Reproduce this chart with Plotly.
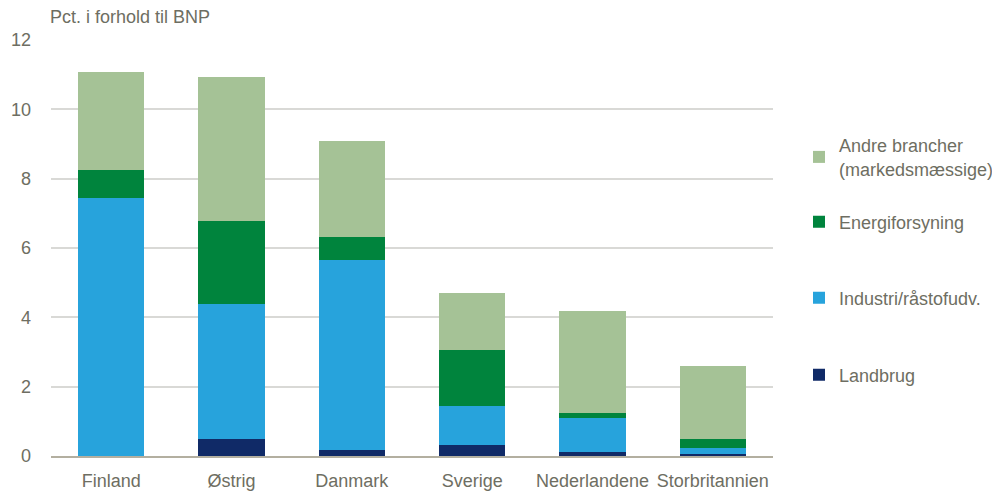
import plotly.graph_objects as go

categories = ["Finland", "Østrig", "Danmark", "Sverige", "Nederlandene", "Storbritannien"]
landbrug = [0.0, 0.50, 0.18, 0.31, 0.11, 0.07]
industri = [7.45, 3.88, 5.48, 1.13, 0.98, 0.15]
energi = [0.81, 2.41, 0.66, 1.63, 0.16, 0.27]
andre = [2.82, 4.15, 2.78, 1.63, 2.92, 2.12]

series_names = ["Landbrug", "Industri/råstofudv.", "Energiforsyning",
                "Andre brancher<br>(markedsmæssige)"]
series_values = [landbrug, industri, energi, andre]
colors = ["#102A67", "#27A3DC", "#00843D", "#A5C296"]
legend_ids = ["legend4", "legend3", "legend2", "legend"]

# page body has an 8px default margin; work in figure pixels = screen - 8
OFF = 8
legend_y_screen = [375, 298, 222, 157]

FONT = "Liberation Sans Narrow, Arial Narrow, Liberation Sans, Arial, sans-serif"
TEXT = "#6E6E62"

fig = go.Figure()
for name, vals, col, lid in zip(series_names, series_values, colors, legend_ids):
    fig.add_trace(go.Bar(x=categories, y=vals, name=name, marker_color=col,
                         marker_line_width=0, legend=lid))

W, H = 1000 - OFF, 492 - OFF
ml = 51 - OFF
mt = 40 - OFF
mr = W - (773 - OFF)
mb = H - (456 - OFF)
ph = H - mt - mb
pw = W - ml - mr

layout_legends = {}
for lid, ys in zip(legend_ids, legend_y_screen):
    yc = ys - OFF
    layout_legends[lid] = dict(
        x=(799 - OFF - ml) / pw, y=(H - mb - yc) / ph, xanchor="left", yanchor="middle",
        bgcolor="rgba(0,0,0,0)", font=dict(family=FONT, size=18, color=TEXT),
        itemwidth=30, tracegroupgap=0,
    )

fig.update_layout(
    width=W, height=H,
    margin=dict(l=ml, r=mr, t=mt, b=mb, autoexpand=False),
    barmode="stack", bargap=0.45,
    plot_bgcolor="white", paper_bgcolor="white",
    font=dict(family=FONT, size=18, color=TEXT),
    showlegend=True,
    **layout_legends,
    xaxis=dict(showgrid=False, showline=True, linecolor="#B3AFA0", linewidth=1.5,
               ticks="", ticklabelstandoff=8, tickfont=dict(size=18, color=TEXT)),
    yaxis=dict(range=[0, 12], dtick=2, showgrid=True, gridcolor="#D9D9D6", gridwidth=1.5,
               zeroline=False, showline=False, ticks="", ticklabelstandoff=19,
               tickfont=dict(size=18, color=TEXT)),
    annotations=[dict(text="Pct. i forhold til BNP", xref="paper", yref="paper",
                      x=(40 - ml) / pw, y=1, xanchor="left", yanchor="middle", yshift=23,
                      showarrow=False, font=dict(family=FONT, size=18, color=TEXT))],
)

fig.write_html("out.html")
